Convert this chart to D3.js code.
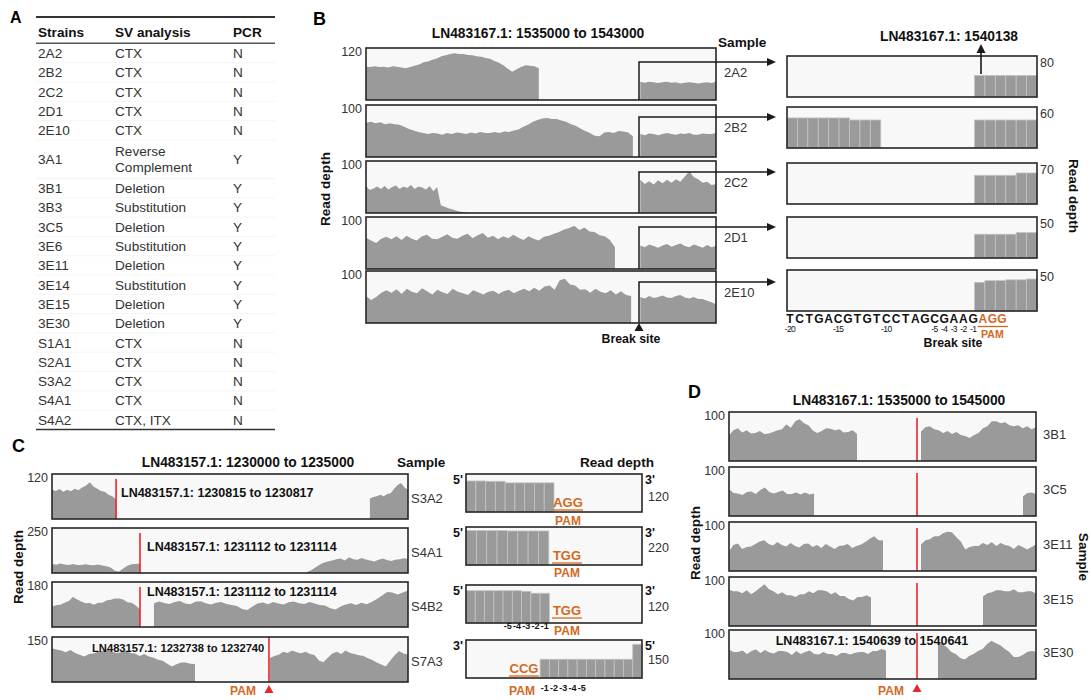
<!DOCTYPE html>
<html><head><meta charset="utf-8">
<script src="https://cdn.jsdelivr.net/npm/d3@7"></script>
<style>body{margin:0;background:#fff}svg{display:block;font-family:"Liberation Sans",Arial,Helvetica,sans-serif}</style>
</head><body><script>
// ---------------- DATA ----------------
// Panel A table
const TABLE_HEADERS = ["Strains", "SV analysis", "PCR"];
const TABLE_STRAINS = ["2A2","2B2","2C2","2D1","2E10","3A1","3B1","3B3","3C5","3E6","3E11","3E14","3E15","3E30","S1A1","S2A1","S3A2","S4A1","S4A2"];
const TABLE_SV = ["CTX","CTX","CTX","CTX","CTX","Reverse\nComplement","Deletion","Substitution","Deletion","Substitution","Deletion","Substitution","Deletion","Deletion","CTX","CTX","CTX","CTX","CTX, ITX"];
const TABLE_PCR = ["N","N","N","N","N","Y","Y","Y","Y","Y","Y","Y","Y","Y","N","N","N","N","N"];

// Panel B (left) coverage, LN483167.1: 1535000 to 1543000
const B_TITLE = "LN483167.1: 1535000 to 1543000";
const B_DOMAIN = [1535000, 1543000];
const B_SAMPLES = ["2A2","2B2","2C2","2D1","2E10"];
const B_MAX = [120, 100, 100, 100, 100];
const B_INSET_START = 1541240;
const B_LEFT_SEG = [[1535000,1538950],[1535000,1541100],[1535000,1537310],[1535000,1540690],[1535000,1541060]];
const B_RIGHT_SEG = [1541270, 1543000];
const B_2A2_L = [77,76,78,76,77,75,78,77,75,73,76,79,82,87,89,93,96,101,103,106,108,106,106,104,103,101,100,97,95,90,86,80,72,65,71,76,80,79,78,73];
const B_2A2_R = [42,40,42,41,39,41,42,40,41,38,40,41,40,38,40,41,39,42];
const B_2B2_L = [66,68,65,67,63,65,63,62,58,54,51,48,46,44,46,45,43,46,44,47,46,44,47,45,48,46,46,48,46,49,48,51,53,58,62,68,71,74,75,73,73,70,68,63,60,55,50,46,41,40,47,48,46,50,49,47,40];
const B_2B2_R = [44,42,45,44,42,44,46,44,43,45,44,46,43,43,45,44,44,46];
const B_2C2_L = [52,44,47,51,46,52,45,50,53,46,51,48,54,46,51,49,45,52,42,50,15,12,9,7,5,3,2,1];
const B_2C2_R = [64,56,61,55,63,57,64,58,65,60,70,80,69,65,58,60,54,56];
const B_2D1_L = [60,55,50,58,62,57,63,56,64,58,55,63,66,58,57,62,67,60,58,64,68,59,65,69,60,64,57,63,59,66,60,56,63,58,55,62,64,68,71,76,79,83,75,80,72,71,65,63,56,42];
const B_2D1_R = [45,42,47,44,41,45,48,43,46,49,44,42,47,44,41,46,42,44];
const B_2E10_L = [52,44,50,58,63,58,65,56,66,60,57,67,61,55,64,59,56,66,60,57,54,63,59,55,60,62,56,61,64,57,62,66,61,68,62,70,72,64,82,85,74,72,64,65,58,66,60,57,63,55,61,54,52];
const B_2E10_R = [50,47,52,48,50,53,49,48,52,54,49,47,50,46,46,43,40,36];

// Panel B (right) zoomed read depth bars, LN483167.1: 1540138
const BZ_TITLE = "LN483167.1: 1540138";
const BZ_SLOTS = 24;
const BZ_MAX = [80, 60, 70, 50, 50];
const BZ_2A2 = [[18, [42,42,42,42,42,42]]];
const BZ_2B2 = [[0, [44,44,44,44,44,44,41,41,41]], [18, [41,41,41,41,41,41]]];
const BZ_2C2 = [[18, [49,49,49,49,53,53]]];
const BZ_2D1 = [[18, [29,29,29,29,31,31]]];
const BZ_2E10 = [[18, [35,37,37,38,38,39]]];
const SEQ = ["T","C","T","G","A","C","G","T","G","T","C","C","T","A","G","C","G","A","A","G"];
const SEQ_PAM = ["A","G","G"];
const SEQ_NUMS = [[0,"-20"],[5,"-15"],[10,"-10"],[15,"-5"],[16,"-4"],[17,"-3"],[18,"-2"],[19,"-1"]];

// Panel C (left) coverage, LN483157.1: 1230000 to 1235000
const C_TITLE = "LN483157.1: 1230000 to 1235000";
const C_DOMAIN = [1230000, 1235000];
const C_SAMPLES = ["S3A2","S4A1","S4B2","S7A3"];
const C_MAX = [120, 250, 180, 150];
const C_BREAKS = [1230900, 1231236, 1231236, 1233047];
const C_LABELS = ["LN483157.1: 1230815 to 1230817","LN483157.1: 1231112 to 1231114","LN483157.1: 1231112 to 1231114","LN483157.1: 1232738 to 1232740"];
const C_S3A2_SEG = [[1230000,1230900],[1234465,1235000]];
const C_S3A2_L = [78,75,80,73,78,74,81,77,84,89,98,87,81,75,73,65,61,52];
const C_S3A2_R = [55,59,61,65,61,67,69,81,91,96,84,78];
const C_S4A1_SEG = [[1230000,1231236],[1233580,1235000]];
const C_S4A1_L = [50,46,53,47,44,50,45,44,48,44,43,47,41,38,30,12,8,25,40,49,50,53];
const C_S4A1_R = [5,15,30,46,57,64,69,76,81,70,87,77,73,84,75,70,64,74,81,72,67,74,77,82,78];
const C_S4B2_SEG = [[1230000,1231236],[1231432,1235000]];
const C_S4B2_L = [82,87,89,97,104,120,110,102,95,96,89,97,97,106,109,114,114,110,99,97,86,70];
const C_S4B2_R = [95,102,96,92,100,104,94,91,101,103,95,90,97,100,92,88,84,72,68,82,94,98,91,100,94,90,99,102,95,92,100,94,88,86,75,70,82,90,95,88,97,91,100,112,126,140,138,130,138,146];
const C_S7A3_SEG = [[1230000,1232008],[1233060,1235000]];
const C_S7A3_L = [112,108,105,99,107,97,91,85,93,95,101,104,109,101,97,99,105,97,95,87,93,85,81,74,71,61,52,59,65,65,61,60];
const C_S7A3_R = [80,87,91,101,97,105,99,96,101,93,90,72,66,81,95,101,93,105,97,93,89,87,79,73,65,58,52,71,89,103,95,92];

// Panel C (right) zoomed bars
const CZ_SLOTS = [18, 17, 19, 19];
const CZ_MAX = [120, 220, 120, 150];
const CZ_S3A2 = [[0, [98,98,97,97,92,92,92,92,92]]];
const CZ_S4A1 = [[0, [199,199,199,199,197,197,197,197]]];
const CZ_S4B2 = [[0, [102,102,102,102,102,102,100,94,94]]];
const CZ_S7A3 = [[8, [74,74,74,74,74,74,74,74,74,74,133]]];
const CZ_PAM = ["AGG","TGG","TGG","CCG"];
const CZ_ENDS = [["5'","3'"],["5'","3'"],["5'","3'"],["3'","5'"]];
const CZ_NUMS_S4B2 = [[4,"-5"],[5,"-4"],[6,"-3"],[7,"-2"],[8,"-1"]];
const CZ_NUMS_S7A3 = [[8,"-1"],[9,"-2"],[10,"-3"],[11,"-4"],[12,"-5"]];

// Panel D coverage, LN483167.1: 1535000 to 1545000
const D_TITLE = "LN483167.1: 1535000 to 1545000";
const D_DOMAIN = [1535000, 1545000];
const D_SAMPLES = ["3B1","3C5","3E11","3E15","3E30"];
const D_MAX = [100, 100, 100, 100, 100];
const D_BREAK = 1541124;
const D_LABEL = "LN483167.1: 1540639 to 1540641";
const D_3B1_SEG = [[1535000,1539170],[1541254,1545000]];
const D_3B1_L = [52,63,67,58,63,56,57,61,55,56,59,63,65,75,68,81,85,77,73,62,57,61,67,66,63,65,58,59,63,55];
const D_3B1_R = [60,69,71,65,63,57,61,55,59,53,51,47,53,57,67,71,81,81,77,79,73,71,73,67,71,65,69];
const D_3C5_SEG = [[1535000,1537770],[1544576,1545000]];
const D_3C5_L = [55,47,46,43,49,50,45,53,58,49,46,49,52,45,45,48,44,48,44,46];
const D_3C5_R = [40,47,48,45];
const D_3E11_SEG = [[1535000,1540016],[1541254,1545000]];
const D_3E11_L = [40,53,56,45,49,50,55,60,63,55,52,59,53,50,57,51,48,55,56,49,53,47,55,50,45,51,52,55,47,51,54,59,66,71,63,62];
const D_3E11_R = [54,63,65,71,71,77,80,79,69,60,44,49,51,51,57,53,59,51,57,53,51,45,53,49,44,49,54];
const D_3E15_SEG = [[1535000,1539625],[1543273,1545000]];
const D_3E15_L = [74,71,71,67,73,65,71,78,85,75,71,65,69,63,63,59,65,65,71,67,73,73,71,65,69,61,61,55,52,59,59,63,58];
const D_3E15_R = [60,67,69,73,73,71,71,75,69,69,71,71,66];
const D_3E30_SEG = [[1535000,1540114],[1541807,1545000]];
const D_3E30_L = [60,55,55,58,51,57,60,53,59,54,52,57,57,55,49,57,51,55,58,51,50,55,51,51,47,53,53,50,53,55,55,51,57,57,61,58];
const D_3E30_R = [78,71,65,55,51,43,40,47,51,57,61,71,78,73,69,61,55,45,45,49,55,57,56];

// ---------------- DRAWING ----------------
const W = 1091, H = 700;
const GREY = "#9a9a9a", BOXFILL = "#f8f8f8", BORDER = "#262626", ORANGE = "#d2691e", RED = "#e8262b", INK = "#1a1a1a";
const svg = d3.select("body").append("svg").attr("width", W).attr("height", H);

function txt(x, y, s, o = {}) {
  const t = svg.append("text").attr("x", x).attr("y", y).text(s)
    .attr("font-size", o.size || 13).attr("fill", o.fill || "#222")
    .attr("text-anchor", o.anchor || "start");
  if (o.bold) t.attr("font-weight", "bold");
  if (o.rotate) t.attr("transform", `rotate(${o.rotate},${x},${y})`).attr("dominant-baseline", "central");
  return t;
}
function line(x1, y1, x2, y2, color = INK, w = 1.5) {
  svg.append("line").attr("x1", x1).attr("y1", y1).attr("x2", x2).attr("y2", y2)
    .attr("stroke", color).attr("stroke-width", w);
}
function tri(pts, color) {
  svg.append("path").attr("d", "M" + pts.map(p => p.join(",")).join("L") + "Z").attr("fill", color);
}

// ---- Panel letters
txt(10, 23, "A", {size: 16, bold: true, fill: "#000"});
txt(313, 25, "B", {size: 18, bold: true, fill: "#000"});
txt(12, 452, "C", {size: 18, bold: true, fill: "#000"});
txt(688, 398, "D", {size: 18, bold: true, fill: "#000"});

// ---- Panel A table
(function () {
  const cols = [38, 115, 233], L = 36, R = 275, RH = 19.3;
  line(L, 17, R, 17, "#333", 1.8);
  TABLE_HEADERS.forEach((h, i) => txt(cols[i], 37, h, {size: 13.6, bold: true, fill: "#111"}));
  line(L, 43.3, R, 43.3, "#555", 1.5);
  let yy = 43.4;
  TABLE_STRAINS.forEach((s, i) => {
    const parts = TABLE_SV[i].split("\n");
    const rh = RH * parts.length, cy = yy + rh / 2;
    txt(cols[0], cy + 5, s, {size: 13.6, fill: "#333"});
    parts.forEach((p, k) => txt(cols[1], cy + 5 + (k - (parts.length - 1) / 2) * 16.5, p, {size: 13.6, fill: "#333"}));
    txt(cols[2], cy + 5, TABLE_PCR[i], {size: 13.6, fill: "#333"});
    yy += rh;
    if (i < TABLE_STRAINS.length - 1) line(L, yy, R, yy, "#f3f3f3", 0.8);
  });
  line(L, 429.5, R, 429.5, "#333", 1.6);
})();

// ---- generic coverage tracks
function coverage(cfg) {
  const x = d3.scaleLinear().domain(cfg.domain).range([cfg.x0, cfg.x1]);
  cfg.tracks.forEach((tr, i) => {
    const top = cfg.tops[i], h = cfg.h;
    const y = d3.scaleLinear().domain([0, tr.max]).range([top + h, top]);
    svg.append("rect").attr("x", cfg.x0).attr("y", top).attr("width", cfg.x1 - cfg.x0).attr("height", h).attr("fill", BOXFILL);
    const area = d3.area().x(d => x(d[0])).y0(y(0)).y1(d => y(d[1]));
    tr.segs.forEach(([s, e, vals]) => {
      const pts = vals.map((v, j) => [s + (e - s) * j / (vals.length - 1), v]);
      svg.append("path").attr("d", area([[s, 0], ...pts, [e, 0]])).attr("fill", GREY);
    });
    txt(cfg.x0 - 4, y(tr.max) + 8, String(tr.max), {size: 12.5, anchor: "end", fill: "#333"});
  });
  return {x};
}
function borders(cfg) {
  cfg.tops.forEach(top => svg.append("rect").attr("x", cfg.x0).attr("y", top)
    .attr("width", cfg.x1 - cfg.x0).attr("height", cfg.h)
    .attr("fill", "none").attr("stroke", BORDER).attr("stroke-width", 1.6));
}
function bars(x0, x1, top, h, slots, max, groups) {
  const xb = d3.scaleBand().domain(d3.range(slots)).range([x0, x1]);
  const y = d3.scaleLinear().domain([0, max]).range([top + h, top]);
  svg.append("rect").attr("x", x0).attr("y", top).attr("width", x1 - x0).attr("height", h).attr("fill", BOXFILL);
  groups.forEach(([start, vals]) => vals.forEach((v, j) => {
    svg.append("rect").attr("x", xb(start + j)).attr("y", y(v)).attr("width", xb.bandwidth())
      .attr("height", y(0) - y(v)).attr("fill", GREY).attr("stroke", "#c4c4c4").attr("stroke-width", 0.8);
  }));
  svg.append("rect").attr("x", x0).attr("y", top).attr("width", x1 - x0).attr("height", h)
    .attr("fill", "none").attr("stroke", BORDER).attr("stroke-width", 1.6);
  return {xb, y};
}

// ---- Panel B left
const bCfg = {
  domain: B_DOMAIN, x0: 366, x1: 716, h: 52, tops: [48, 105, 161, 217, 271],
  tracks: [
    {max: B_MAX[0], segs: [[...B_LEFT_SEG[0], B_2A2_L], [...B_RIGHT_SEG, B_2A2_R]]},
    {max: B_MAX[1], segs: [[...B_LEFT_SEG[1], B_2B2_L], [...B_RIGHT_SEG, B_2B2_R]]},
    {max: B_MAX[2], segs: [[...B_LEFT_SEG[2], B_2C2_L], [...B_RIGHT_SEG, B_2C2_R]]},
    {max: B_MAX[3], segs: [[...B_LEFT_SEG[3], B_2D1_L], [...B_RIGHT_SEG, B_2D1_R]]},
    {max: B_MAX[4], segs: [[...B_LEFT_SEG[4], B_2E10_L], [...B_RIGHT_SEG, B_2E10_R]]}
  ]
};
const bS = coverage(bCfg);
borders(bCfg);
const bInsetTops = [62, 117, 172, 227, 282];
const bx = bS.x(B_INSET_START);
bCfg.tops.forEach((top, i) => {
  const it = bInsetTops[i];
  svg.append("path").attr("d", `M${bx},${top + bCfg.h}V${it}H769`).attr("fill", "none").attr("stroke", INK).attr("stroke-width", 1.5);
  tri([[767, it - 4], [776, it], [767, it + 4]], INK);
  txt(724, it + 15, B_SAMPLES[i], {size: 13, fill: "#333"});
});
txt(538, 38, B_TITLE, {size: 13.8, bold: true, anchor: "middle", fill: "#111"});
txt(718, 47, "Sample", {size: 13.6, bold: true, fill: "#111"});
txt(325, 189, "Read depth", {size: 13.6, bold: true, anchor: "middle", rotate: -90, fill: "#111"});
tri([[bx - 4.5, 331], [bx, 323], [bx + 4.5, 331]], INK);
txt(bx - 8, 343, "Break site", {size: 12.3, bold: true, anchor: "middle", fill: "#111"});

// ---- Panel B right
const bzTops = [56, 107, 163, 217, 270];
const bzGroups = [BZ_2A2, BZ_2B2, BZ_2C2, BZ_2D1, BZ_2E10];
bzTops.forEach((top, i) => {
  const r = bars(787, 1037, top, 41, BZ_SLOTS, BZ_MAX[i], bzGroups[i]);
  txt(1040, r.y(BZ_MAX[i]) + 11, String(BZ_MAX[i]), {size: 12.5, fill: "#333"});
});
txt(949, 41, BZ_TITLE, {size: 13.8, bold: true, anchor: "middle", fill: "#111"});
line(981, 74, 981, 52, INK, 1.6);
tri([[976.5, 53], [981, 44], [985.5, 53]], INK);
txt(1073, 196, "Read depth", {size: 13.6, bold: true, anchor: "middle", rotate: 90, fill: "#111"});
const seqX = d3.scalePoint().domain(d3.range(SEQ.length + SEQ_PAM.length)).range([790, 1002]);
SEQ.forEach((c, i) => txt(seqX(i), 323, c, {size: 12, bold: true, anchor: "middle", fill: "#111"}));
SEQ_PAM.forEach((c, i) => txt(seqX(SEQ.length + i), 323, c, {size: 12, bold: true, anchor: "middle", fill: ORANGE}));
SEQ_NUMS.forEach(([i, s]) => txt(seqX(i), 332, s, {size: 8.5, anchor: "middle", fill: "#111"}).attr("letter-spacing", -0.6));
line(seqX(SEQ.length) - 5, 326.5, seqX(SEQ.length + 2) + 6, 326.5, ORANGE, 1.3);
txt(seqX(SEQ.length + 1), 338, "PAM", {size: 10.5, bold: true, anchor: "middle", fill: ORANGE});
txt(953, 347, "Break site", {size: 12.3, bold: true, anchor: "middle", fill: "#111"});

// ---- Panel C left
const cCfg = {
  domain: C_DOMAIN, x0: 52, x1: 408, h: 45, tops: [474, 528, 582, 637],
  tracks: [
    {max: C_MAX[0], segs: [[...C_S3A2_SEG[0], C_S3A2_L], [...C_S3A2_SEG[1], C_S3A2_R]]},
    {max: C_MAX[1], segs: [[...C_S4A1_SEG[0], C_S4A1_L], [...C_S4A1_SEG[1], C_S4A1_R]]},
    {max: C_MAX[2], segs: [[...C_S4B2_SEG[0], C_S4B2_L], [...C_S4B2_SEG[1], C_S4B2_R]]},
    {max: C_MAX[3], segs: [[...C_S7A3_SEG[0], C_S7A3_L], [...C_S7A3_SEG[1], C_S7A3_R]]}
  ]
};
const cS = coverage(cCfg);
const cLabelPos = [[121, 497, 12.5], [147, 551, 12.5], [147, 596, 12.5], [92, 652, 11.2]];
cCfg.tops.forEach((top, i) => {
  const xx = cS.x(C_BREAKS[i]);
  line(xx, top + (i === 3 ? 0 : 5), xx, top + cCfg.h, RED, 1.6);
  const [lx, ly, fs] = cLabelPos[i];
  txt(lx, ly, C_LABELS[i], {size: fs, bold: true, fill: "#111"});
  txt(411, top + cCfg.h / 2 + 6, C_SAMPLES[i], {size: 13, fill: "#333"});
});
borders(cCfg);
txt(248, 467, C_TITLE, {size: 13.8, bold: true, anchor: "middle", fill: "#111"});
txt(397, 467, "Sample", {size: 13.6, bold: true, fill: "#111"});
txt(18, 567, "Read depth", {size: 13.6, bold: true, anchor: "middle", rotate: -90, fill: "#111"});
const cpx = cS.x(C_BREAKS[3]);
tri([[cpx - 4.5, 693], [cpx, 685], [cpx + 4.5, 693]], RED);
txt(243, 695, "PAM", {size: 12, bold: true, anchor: "middle", fill: ORANGE});

// ---- Panel C right
const czTops = [474, 527, 585, 640];
const czGroups = [CZ_S3A2, CZ_S4A1, CZ_S4B2, CZ_S7A3];
const czPamX = [568, 567, 567, 524];
const czPamY = [[507, 525], [560, 577], [615, 635], [673, 695]];
const czLab = [[120, 501], [220, 552], [120, 611], [150, 664]];
czTops.forEach((top, i) => {
  const r = bars(466, 642, top, 38, CZ_SLOTS[i], CZ_MAX[i], czGroups[i]);
  txt(463, top + 10, CZ_ENDS[i][0], {size: 12.5, bold: true, anchor: "end", fill: "#111"});
  txt(645, top + 10, CZ_ENDS[i][1], {size: 12.5, bold: true, fill: "#111"});
  txt(648, czLab[i][1], String(czLab[i][0]), {size: 12.5, fill: "#333"});
  const [py, pamy] = czPamY[i];
  txt(czPamX[i], py, CZ_PAM[i], {size: 13, bold: true, anchor: "middle", fill: ORANGE});
  line(czPamX[i] - 15, py + 3, czPamX[i] + 15, py + 3, ORANGE, 1.3);
  txt(czPamX[i] - (i === 3 ? 2 : 0), pamy, "PAM", {size: 12, bold: true, anchor: "middle", fill: ORANGE});
  if (i === 2) CZ_NUMS_S4B2.forEach(([k, s]) => txt(r.xb(k) + r.xb.bandwidth() / 2, 629, s, {size: 9, bold: true, anchor: "middle", fill: "#111"}));
  if (i === 3) CZ_NUMS_S7A3.forEach(([k, s]) => txt(r.xb(k) + r.xb.bandwidth() / 2, 691, s, {size: 9, bold: true, anchor: "middle", fill: "#111"}));
});
txt(617, 467, "Read depth", {size: 13.6, bold: true, anchor: "middle", fill: "#111"});

// ---- Panel D
const dCfg = {
  domain: D_DOMAIN, x0: 729, x1: 1036, h: 49, tops: [412, 467, 522, 577, 630],
  tracks: [
    {max: D_MAX[0], segs: [[...D_3B1_SEG[0], D_3B1_L], [...D_3B1_SEG[1], D_3B1_R]]},
    {max: D_MAX[1], segs: [[...D_3C5_SEG[0], D_3C5_L], [...D_3C5_SEG[1], D_3C5_R]]},
    {max: D_MAX[2], segs: [[...D_3E11_SEG[0], D_3E11_L], [...D_3E11_SEG[1], D_3E11_R]]},
    {max: D_MAX[3], segs: [[...D_3E15_SEG[0], D_3E15_L], [...D_3E15_SEG[1], D_3E15_R]]},
    {max: D_MAX[4], segs: [[...D_3E30_SEG[0], D_3E30_L], [...D_3E30_SEG[1], D_3E30_R]]}
  ]
};
const dS = coverage(dCfg);
const dx = dS.x(D_BREAK);
dCfg.tops.forEach((top, i) => {
  line(dx, top + (i === 4 ? 3 : 6), dx, top + dCfg.h, RED, 1.6);
  txt(1043, top + dCfg.h / 2 + 2, D_SAMPLES[i], {size: 13, fill: "#333"});
});
txt(872, 645, D_LABEL, {size: 12.5, bold: true, anchor: "middle", fill: "#111"});
borders(dCfg);
txt(899, 405, D_TITLE, {size: 13.8, bold: true, anchor: "middle", fill: "#111"});
txt(695, 543, "Read depth", {size: 13.6, bold: true, anchor: "middle", rotate: -90, fill: "#111"});
txt(1083, 557, "Sample", {size: 13.6, bold: true, anchor: "middle", rotate: 90, fill: "#111"});
tri([[dx - 4.5, 692], [dx, 684], [dx + 4.5, 692]], RED);
txt(891, 695, "PAM", {size: 12, bold: true, anchor: "middle", fill: ORANGE});
</script></body></html>
